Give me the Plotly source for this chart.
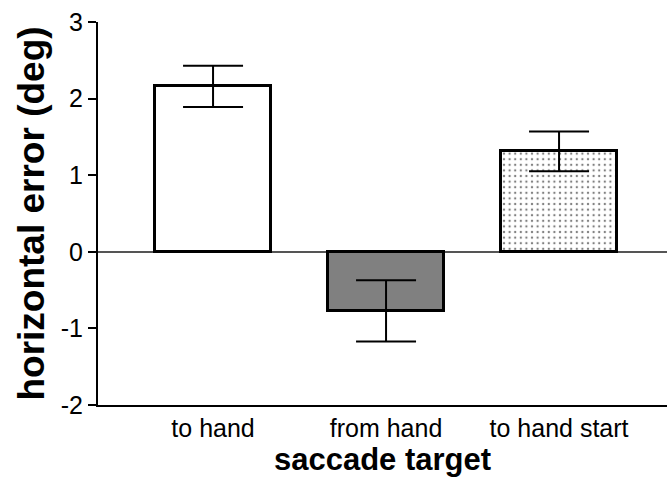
import plotly.graph_objects as go

categories = ['to hand', 'from hand', 'to hand start']
means = [2.16, -0.77, 1.31]
errors = [0.27, 0.40, 0.26]
y_ticks = [-2, -1, 0, 1, 2, 3]

font_family = 'Liberation Sans, Arial, sans-serif'
xpos = list(range(len(categories)))

fig = go.Figure()

# plain white bar, grey bar, dotted bar
styles = [
    dict(color='white'),
    dict(color='#808080'),
    dict(color='white', pattern=dict(shape='.', fgcolor='black', bgcolor='white',
                                     size=5.6, solidity=0.14)),
]

for i in xpos:
    fig.add_trace(go.Bar(
        x=[xpos[i]], y=[means[i]],
        width=0.67,
        marker=dict(line=dict(color='black', width=3), **styles[i]),
        error_y=dict(type='data', array=[errors[i]], visible=True,
                     color='black', thickness=2, width=30),
        showlegend=False,
    ))

fig.update_layout(
    width=667, height=488,
    margin=dict(l=98, r=0, t=22, b=83),
    paper_bgcolor='white', plot_bgcolor='white',
    font=dict(family=font_family, color='black'),
    bargap=0,
)

fig.update_xaxes(
    range=[-0.665, 2.624],
    tickvals=xpos, ticktext=categories,
    tickfont=dict(size=25),
    showline=True, linecolor='black', linewidth=2,
    ticks='', showgrid=False, zeroline=False, automargin=False,
    title=dict(text='<b>saccade target</b>', font=dict(size=31), standoff=4),
)

fig.update_yaxes(
    range=[-2, 3],
    tickvals=y_ticks, ticktext=[str(v) for v in y_ticks],
    tickfont=dict(size=25),
    showline=True, linecolor='black', linewidth=2,
    ticks='outside', ticklen=8, tickwidth=2, tickcolor='black',
    showgrid=False, automargin=False,
    zeroline=True, zerolinecolor='#555555', zerolinewidth=2,
    title=dict(text='<b>horizontal error (deg)</b>', font=dict(size=37), standoff=5),
)

config = {'displayModeBar': False}

# page has a default body margin; drop it so the figure fills the window
fig.write_html("out.html", config=config,
               post_script="document.body.style.margin='0';document.body.style.overflow='hidden';")
